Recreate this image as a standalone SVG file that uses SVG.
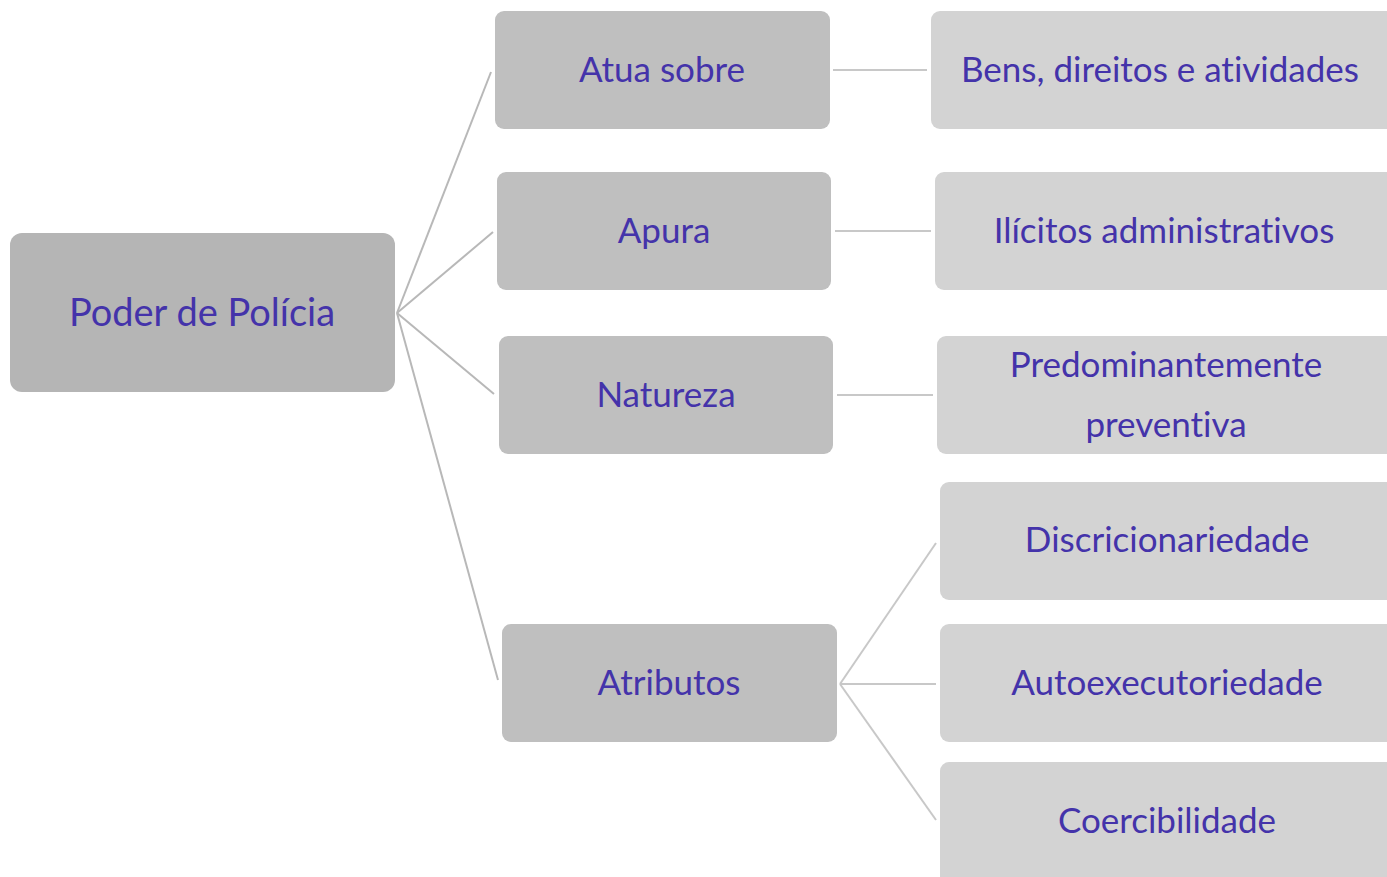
<svg xmlns="http://www.w3.org/2000/svg" width="1387" height="877" viewBox="0 0 1387 877">
<style>
.t{font-family:Lato,"Noto Sans",sans-serif;fill:#4433aa;text-anchor:middle;font-size:35px;font-variant-ligatures:none}
.root{fill:#b5b5b5}
.mid{fill:#bfbfbf}
.leaf{fill:#d3d3d3}
.c1{stroke:#b8b8b8;stroke-width:2;fill:none}
.c2{stroke:#c8c8c8;stroke-width:2;fill:none}
</style>
<rect width="1387" height="877" fill="#ffffff"/>
<g id="connectors">
<line class="c1" x1="397" y1="313" x2="491" y2="72"/>
<line class="c1" x1="397" y1="313" x2="493" y2="232"/>
<line class="c1" x1="397" y1="313" x2="494" y2="394"/>
<line class="c1" x1="397" y1="313" x2="498" y2="680"/>
<line class="c2" x1="833" y1="70" x2="927" y2="70"/>
<line class="c2" x1="835" y1="231" x2="931" y2="231"/>
<line class="c2" x1="837" y1="395" x2="933" y2="395"/>
<line class="c2" x1="840" y1="684" x2="936" y2="543"/>
<line class="c2" x1="840" y1="684" x2="936" y2="684"/>
<line class="c2" x1="840" y1="684" x2="936" y2="820"/>
</g>
<g id="n-root"><rect class="root" x="10" y="233" width="385" height="159" rx="12"/><text class="t" x="202" y="326" style="font-size:38px">Poder de Polícia</text></g>
<g id="n-atua"><rect class="mid" x="495" y="11" width="335" height="118" rx="9"/><text class="t" x="662" y="82">Atua sobre</text></g>
<g id="n-apura"><rect class="mid" x="497" y="172" width="334" height="118" rx="9"/><text class="t" x="664" y="243">Apura</text></g>
<g id="n-natureza"><rect class="mid" x="499" y="336" width="334" height="118" rx="9"/><text class="t" x="666" y="407">Natureza</text></g>
<g id="n-atributos"><rect class="mid" x="502" y="624" width="335" height="118" rx="9"/><text class="t" x="669" y="695">Atributos</text></g>
<g id="n-bens"><rect class="leaf" x="931" y="11" width="470" height="118" rx="9"/><text class="t" x="1160" y="82">Bens, direitos e atividades</text></g>
<g id="n-ilicitos"><rect class="leaf" x="935" y="172" width="470" height="118" rx="9"/><text class="t" x="1164" y="243">Ilícitos administrativos</text></g>
<g id="n-predom"><rect class="leaf" x="937" y="336" width="470" height="118" rx="9"/><text class="t" x="1166" y="377">Predominantemente</text><text class="t" x="1166" y="437">preventiva</text></g>
<g id="n-discr"><rect class="leaf" x="940" y="482" width="470" height="118" rx="9"/><text class="t" x="1167" y="552">Discricionariedade</text></g>
<g id="n-auto"><rect class="leaf" x="940" y="624" width="470" height="118" rx="9"/><text class="t" x="1167" y="695">Autoexecutoriedade</text></g>
<g id="n-coerc"><rect class="leaf" x="940" y="762" width="470" height="140" rx="9"/><text class="t" x="1167" y="833">Coercibilidade</text></g>
</svg>
